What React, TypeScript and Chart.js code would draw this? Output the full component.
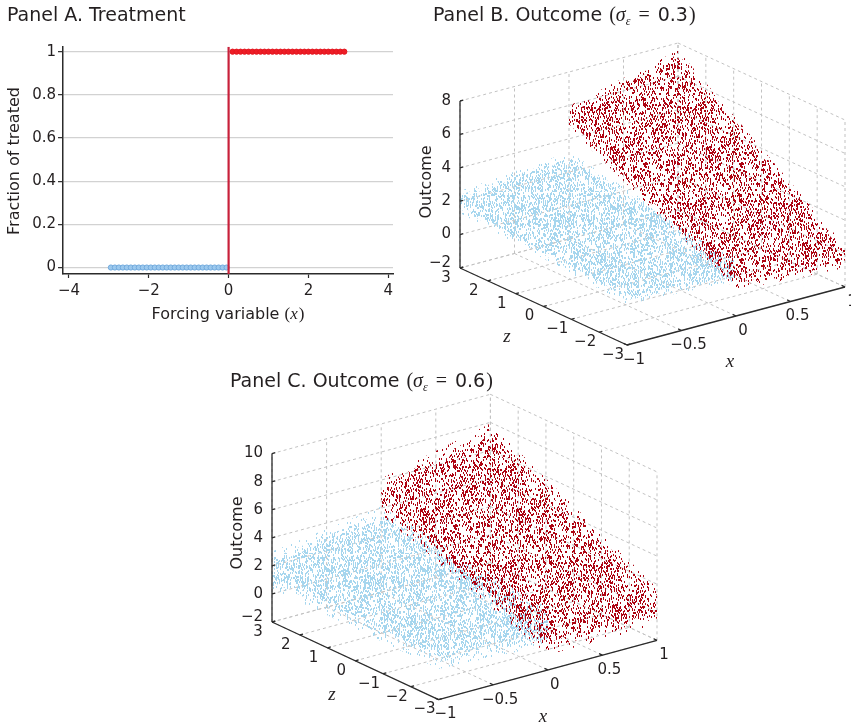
import { useEffect, useRef } from 'react';
import { Chart, registerables } from 'chart.js';

Chart.register(...registerables);

const SANS = '"DejaVu Sans", Verdana, sans-serif';
const SERIF = '"Liberation Serif", "DejaVu Serif", serif';
const INK = '#231f20';
const AXIS = '#2b2b2b';
const GRID3D = '#c2c2c2';

// Panel A: fraction treated against the forcing variable
const A_CONTROL_X = [-2.95, -2.85, -2.75, -2.65, -2.55, -2.45, -2.35, -2.25, -2.15, -2.05, -1.95, -1.85, -1.75, -1.65, -1.55, -1.45, -1.35, -1.25, -1.15, -1.05, -0.95, -0.85, -0.75, -0.65, -0.55, -0.45, -0.35, -0.25, -0.15, -0.05];
const A_CONTROL_SHARE = [0, 0, 0, 0, 0, 0, 0, 0, 0, 0, 0, 0, 0, 0, 0, 0, 0, 0, 0, 0, 0, 0, 0, 0, 0, 0, 0, 0, 0, 0];
const A_TREATED_X = [0.1, 0.2, 0.3, 0.4, 0.5, 0.6, 0.7, 0.8, 0.9, 1, 1.1, 1.2, 1.3, 1.4, 1.5, 1.6, 1.7, 1.8, 1.9, 2, 2.1, 2.2, 2.3, 2.4, 2.5, 2.6, 2.7, 2.8, 2.9];
const A_TREATED_SHARE = [1, 1, 1, 1, 1, 1, 1, 1, 1, 1, 1, 1, 1, 1, 1, 1, 1, 1, 1, 1, 1, 1, 1, 1, 1, 1, 1, 1, 1];
const A_X_TICKS = [-4, -2, 0, 2, 4];
const A_Y_TICKS = [0, 0.2, 0.4, 0.6, 0.8, 1];
const A_X_MIN = -4.15, A_X_MAX = 4.12, A_Y_MIN = -0.03, A_Y_MAX = 1.023;
const A_CUTOFF = 0;

// Panels B and C: outcome over (x, z), corners of each group's cloud
const X_TICKS_3D = [-1, -0.5, 0, 0.5, 1];
const Z_TICKS_3D = [-3, -2, -1, 0, 1, 2, 3];
const B_OUTCOME_TICKS = [-2, 0, 2, 4, 6, 8];
const C_OUTCOME_TICKS = [-2, 0, 2, 4, 6, 8, 10];
const CONTROL_CORNER_X = [-1, 0, 0, -1];
const TREATED_CORNER_X = [0, 1, 1, 0];
const CORNER_Z = [3, 3, -3, -3];
const B_CONTROL_OUTCOME = [1.95, 2.55, 0.75, 1.1];
const B_TREATED_OUTCOME = [5.3, 6.9, -0.2, 0.2];
const C_CONTROL_OUTCOME = [1.7, 2.8, 1.1, 1.5];
const C_TREATED_OUTCOME = [4.8, 6.6, 0.4, 0.4];
const B_SIGMA = 0.3;
const C_SIGMA = 0.6;

// how the scatter texture thins out away from the mean surface (in noise sd)
const BANDS = [
  { k: 0.7, density: 0.085 },
  { k: 1.4, density: 0.06 },
  { k: 2.2, density: 0.035 },
];

type Pt = { x: number; y: number };
type Panel3D = {
  name: string; sigmaText: string;
  left: number; top: number; width: number; height: number;
  origin: [number, number]; xVec: [number, number]; zVec: [number, number]; yLen: number;
  yTicks: number[]; control: number[]; treated: number[]; sigma: number;
  title: [number, number]; outcomeLabel: [number, number]; zLabel: [number, number]; xLabel: [number, number];
};

const PANEL_B: Panel3D = {
  name: 'Panel B. Outcome ', sigmaText: '0.3',
  left: 405, top: 0, width: 446, height: 375,
  origin: [55, 268], xVec: [218, -58], zVec: [167, 77], yLen: 167,
  yTicks: B_OUTCOME_TICKS, control: B_CONTROL_OUTCOME, treated: B_TREATED_OUTCOME, sigma: B_SIGMA,
  title: [28, 21], outcomeLabel: [22, 182], zLabel: [102, 337], xLabel: [325, 362],
};
const PANEL_C: Panel3D = {
  name: 'Panel C. Outcome ', sigmaText: '0.6',
  left: 215, top: 362, width: 465, height: 366,
  origin: [57, 260], xVec: [218.4, -59.3], zVec: [166.6, 77.6], yLen: 168.4,
  yTicks: C_OUTCOME_TICKS, control: C_CONTROL_OUTCOME, treated: C_TREATED_OUTCOME, sigma: C_SIGMA,
  title: [15, 25], outcomeLabel: [23, 171], zLabel: [117, 333], xLabel: [328, 355],
};

const fmt = (v: number) => (v < 0 ? '\u2212' + Math.abs(v) : String(v));

type Run = { t: string; font: string; dy?: number; dx?: number };
function drawRuns(ctx: CanvasRenderingContext2D, runs: Run[], x: number, y: number, center = false) {
  ctx.save();
  ctx.textAlign = 'left';
  ctx.textBaseline = 'alphabetic';
  ctx.fillStyle = INK;
  let w = 0;
  runs.forEach(r => { ctx.font = r.font; w += ctx.measureText(r.t).width + (r.dx || 0); });
  let cx = center ? x - w / 2 : x;
  runs.forEach(r => {
    ctx.font = r.font;
    cx += r.dx || 0;
    ctx.fillText(r.t, cx, y + (r.dy || 0));
    cx += ctx.measureText(r.t).width;
  });
  ctx.restore();
}

function titleRuns(p: Panel3D): Run[] {
  return [
    { t: p.name, font: `19px ${SANS}` },
    { t: '(', font: `20px ${SERIF}`, dx: 1 },
    { t: '\u03c3', font: `italic 20px ${SERIF}` },
    { t: '\u03b5', font: `italic 12px ${SERIF}`, dy: 4 },
    { t: '=', font: `20px ${SERIF}`, dx: 8 },
    { t: p.sigmaText, font: `19px ${SANS}`, dx: 8 },
    { t: ')', font: `20px ${SERIF}`, dx: 1 },
  ];
}

function project(p: Panel3D, x: number, z: number, y: number): Pt {
  const xs = X_TICKS_3D, zs = Z_TICKS_3D, ys = p.yTicks;
  const tx = (x - xs[0]) / (xs[xs.length - 1] - xs[0]);
  const tz = (zs[zs.length - 1] - z) / (zs[zs.length - 1] - zs[0]);
  const ty = (y - ys[0]) / (ys[ys.length - 1] - ys[0]);
  return {
    x: p.origin[0] + tx * p.xVec[0] + tz * p.zVec[0],
    y: p.origin[1] + tx * p.xVec[1] + tz * p.zVec[1] - ty * p.yLen,
  };
}

function hull(points: Pt[]): Pt[] {
  const s = [...points].sort((a, b) => a.x - b.x || a.y - b.y);
  const cross = (o: Pt, a: Pt, b: Pt) => (a.x - o.x) * (b.y - o.y) - (a.y - o.y) * (b.x - o.x);
  const lower: Pt[] = [];
  for (const q of s) {
    while (lower.length >= 2 && cross(lower[lower.length - 2], lower[lower.length - 1], q) <= 0) lower.pop();
    lower.push(q);
  }
  const upper: Pt[] = [];
  for (const q of s.reverse()) {
    while (upper.length >= 2 && cross(upper[upper.length - 2], upper[upper.length - 1], q) <= 0) upper.pop();
    upper.push(q);
  }
  const h = lower.slice(0, -1).concat(upper.slice(0, -1));
  return h.concat([h[0]]);
}

// cloud outline: the group's corners spread up and down by k noise sd
function cloud(p: Panel3D, xs: number[], outcome: number[], k: number): Pt[] {
  const pts: Pt[] = [];
  xs.forEach((x, i) => {
    pts.push(project(p, x, CORNER_Z[i], outcome[i] - k * p.sigma));
    pts.push(project(p, x, CORNER_Z[i], outcome[i] + k * p.sigma));
  });
  return hull(pts);
}

// speckle texture standing in for the individual scatter marks
function dotPattern(color: string, density: number, seed: number) {
  const n = 96;
  const c = document.createElement('canvas');
  c.width = n; c.height = n;
  const g = c.getContext('2d')!;
  g.fillStyle = color;
  for (let i = 0; i < n * n; i++) {
    let h = Math.imul(i + seed * 77777, 0x9e3779b1);
    h ^= h >>> 15; h = Math.imul(h, 0x85ebca6b); h ^= h >>> 13; h = Math.imul(h, 0xc2b2ae35); h ^= h >>> 16;
    if ((h >>> 0) % 1000 < density * 1000) g.fillRect(i % n, Math.floor(i / n), 1, 2);
  }
  return g.createPattern(c, 'repeat')!;
}

function boxPlugin(p: Panel3D) {
  const xs = X_TICKS_3D, zs = Z_TICKS_3D, ys = p.yTicks;
  const xMin = xs[0], xMax = xs[xs.length - 1], zMin = zs[0], zMax = zs[zs.length - 1];
  const yMin = ys[0], yMax = ys[ys.length - 1];
  const toPx = (chart: Chart, q: Pt) => [chart.scales.x.getPixelForValue(q.x), chart.scales.y.getPixelForValue(q.y)];
  const seg = (chart: Chart, a: number[], b: number[]) => {
    const [x1, y1] = toPx(chart, project(p, a[0], a[1], a[2]));
    const [x2, y2] = toPx(chart, project(p, b[0], b[1], b[2]));
    const ctx = chart.ctx;
    ctx.beginPath(); ctx.moveTo(x1, y1); ctx.lineTo(x2, y2); ctx.stroke();
  };
  return {
    id: 'box3d',
    beforeDatasetsDraw(chart: Chart) {
      const ctx = chart.ctx;
      ctx.save();
      ctx.strokeStyle = GRID3D; ctx.lineWidth = 1; ctx.setLineDash([3, 3]);
      ys.forEach(y => { seg(chart, [xMin, zMax, y], [xMax, zMax, y]); seg(chart, [xMax, zMax, y], [xMax, zMin, y]); });
      xs.forEach(x => { seg(chart, [x, zMax, yMin], [x, zMax, yMax]); seg(chart, [x, zMax, yMin], [x, zMin, yMin]); });
      zs.forEach(z => { seg(chart, [xMax, z, yMin], [xMax, z, yMax]); seg(chart, [xMin, z, yMin], [xMax, z, yMin]); });
      ctx.restore();
    },
    afterDatasetsDraw(chart: Chart) {
      const ctx = chart.ctx;
      ctx.save();
      ctx.strokeStyle = AXIS; ctx.lineWidth = 1.3; ctx.setLineDash([]);
      seg(chart, [xMin, zMax, yMin], [xMin, zMax, yMax]);
      seg(chart, [xMin, zMax, yMin], [xMin, zMin, yMin]);
      seg(chart, [xMin, zMin, yMin], [xMax, zMin, yMin]);
      const dx = 0.015 * (xMax - xMin), dz = 0.02 * (zMax - zMin);
      ys.forEach(y => seg(chart, [xMin, zMax, y], [xMin + dx, zMax, y]));
      zs.forEach(z => seg(chart, [xMin, z, yMin], [xMin + dx, z, yMin]));
      xs.forEach(x => seg(chart, [x, zMin, yMin], [x, zMin + dz, yMin]));

      ctx.fillStyle = INK;
      ctx.font = `15px ${SANS}`;
      ctx.textBaseline = 'middle';
      ctx.textAlign = 'right';
      ys.forEach(y => { const [u, v] = toPx(chart, project(p, xMin, zMax, y)); ctx.fillText(fmt(y), u - 9, y === yMin ? v - 5 : v); });
      ctx.textAlign = 'center';
      zs.forEach(z => { const [u, v] = toPx(chart, project(p, xMin, z, yMin)); ctx.fillText(fmt(z), u - 14, v + 10); });
      xs.forEach(x => { const [u, v] = toPx(chart, project(p, x, zMin, yMin)); ctx.fillText(fmt(x), u + 7, v + 15); });

      ctx.save();
      ctx.translate(p.outcomeLabel[0], p.outcomeLabel[1]);
      ctx.rotate(-Math.PI / 2);
      ctx.font = `16px ${SANS}`;
      ctx.fillText('Outcome', 0, 0);
      ctx.restore();
      ctx.font = `italic 19px ${SERIF}`;
      ctx.fillText('z', p.zLabel[0], p.zLabel[1]);
      ctx.fillText('x', p.xLabel[0], p.xLabel[1]);
      ctx.restore();
      drawRuns(ctx, titleRuns(p), p.title[0], p.title[1]);
    },
  };
}

function makeSurface(canvas: HTMLCanvasElement, p: Panel3D) {
  const group = (label: string, xs: number[], outcome: number[], color: string, seed: number, thick: number) =>
    BANDS.map((b, j) => ({
      type: 'line', label, data: cloud(p, xs, outcome, b.k), fill: 'shape',
      backgroundColor: dotPattern(color, b.density * thick, seed + j), borderWidth: 0, pointRadius: 0,
    }));
  return new Chart(canvas, {
    type: 'scatter',
    data: {
      datasets: [
        ...group('Treated', TREATED_CORNER_X, p.treated, '#ad0412', 1, 1),
        ...group('Control', CONTROL_CORNER_X, p.control, '#a6d6ee', 11, 1.35),
      ],
    } as any,
    options: {
      animation: false, responsive: false, events: [],
      layout: { padding: 0 },
      plugins: { legend: { display: false }, tooltip: { enabled: false } },
      scales: {
        x: { type: 'linear', display: false, min: 0, max: p.width },
        y: { type: 'linear', display: false, min: 0, max: p.height, reverse: true },
      },
    },
    plugins: [boxPlugin(p)],
  });
}

const panelAText = {
  id: 'panelAText',
  afterDraw(chart: Chart) {
    const ctx = chart.ctx;
    drawRuns(ctx, [{ t: 'Panel A. Treatment', font: `19px ${SANS}` }], 7, 21);
    drawRuns(ctx, [
      { t: 'Forcing variable ', font: `16px ${SANS}` },
      { t: '(', font: `17px ${SERIF}` },
      { t: 'x', font: `italic 17px ${SERIF}` },
      { t: ')', font: `17px ${SERIF}`, dx: 1 },
    ], 228, 319, true);
    ctx.save();
    ctx.fillStyle = INK;
    ctx.translate(15, 161);
    ctx.rotate(-Math.PI / 2);
    ctx.font = `16px ${SANS}`;
    ctx.textAlign = 'center';
    ctx.textBaseline = 'middle';
    ctx.fillText('Fraction of treated', 0, 0);
    ctx.restore();
  },
};

function makeTreatment(canvas: HTMLCanvasElement) {
  const tickFont = { family: SANS, size: 15 };
  return new Chart(canvas, {
    type: 'scatter',
    data: {
      datasets: [
        { label: 'Cutoff', data: [{ x: A_CUTOFF, y: A_Y_MIN }, { x: A_CUTOFF, y: A_Y_MAX }], showLine: true, borderColor: '#c8203a', borderWidth: 2.2, pointRadius: 0 },
        { label: 'Treated', data: A_TREATED_X.map((x, i) => ({ x, y: A_TREATED_SHARE[i] })), showLine: true, borderColor: '#b8101c', borderWidth: 1, pointRadius: 2.6, pointBackgroundColor: '#ee1d26', pointBorderColor: '#e3161f', pointBorderWidth: 1 },
        { label: 'Control', data: A_CONTROL_X.map((x, i) => ({ x, y: A_CONTROL_SHARE[i] })), showLine: true, borderColor: '#6fa6da', borderWidth: 1.2, pointRadius: 2.6, pointBackgroundColor: '#9cc9ee', pointBorderColor: '#72aadd', pointBorderWidth: 1 },
      ],
    },
    options: {
      animation: false, responsive: false, events: [],
      layout: { padding: { top: 46.7, right: 17, left: 0, bottom: 0 } },
      plugins: { legend: { display: false }, tooltip: { enabled: false } },
      scales: {
        x: {
          type: 'linear', min: A_X_MIN, max: A_X_MAX,
          afterFit: (s: any) => { s.height = 56; },
          afterBuildTicks: (s: any) => { s.ticks = A_X_TICKS.map(v => ({ value: v })); },
          grid: { drawOnChartArea: false, tickLength: 4, tickColor: AXIS, tickWidth: 1.2 },
          border: { color: AXIS, width: 1.5 },
          ticks: { font: tickFont, color: INK, padding: 4, maxRotation: 0, callback: (v: any) => fmt(Number(v)) },
        },
        y: {
          type: 'linear', min: A_Y_MIN, max: A_Y_MAX,
          afterFit: (s: any) => { s.width = 63; },
          afterBuildTicks: (s: any) => { s.ticks = A_Y_TICKS.map(v => ({ value: v })); },
          grid: { color: '#d2d2d2', lineWidth: 1.3, tickLength: 5, tickColor: AXIS, tickWidth: 1.2 },
          border: { color: AXIS, width: 1.5 },
          ticks: { font: tickFont, color: INK, padding: 2, callback: (v: any) => fmt(Number(v)) },
        },
      },
    },
    plugins: [panelAText],
  });
}

function Canvas({ left, top, width, height, make }: { left: number; top: number; width: number; height: number; make: (c: HTMLCanvasElement) => Chart }) {
  const ref = useRef<HTMLCanvasElement>(null);
  useEffect(() => {
    if (!ref.current) return;
    const chart = make(ref.current);
    return () => { chart.destroy(); };
  }, []);
  return <canvas ref={ref} width={width} height={height} style={{ position: 'absolute', left, top, width, height }} />;
}

export default function App() {
  return (
    <div style={{ position: 'absolute', left: 0, top: 0, width: 851, height: 728, background: '#fff', overflow: 'hidden' }}>
      <Canvas left={0} top={0} width={410} height={330} make={makeTreatment} />
      <Canvas left={PANEL_B.left} top={PANEL_B.top} width={PANEL_B.width} height={PANEL_B.height} make={c => makeSurface(c, PANEL_B)} />
      <Canvas left={PANEL_C.left} top={PANEL_C.top} width={PANEL_C.width} height={PANEL_C.height} make={c => makeSurface(c, PANEL_C)} />
    </div>
  );
}
